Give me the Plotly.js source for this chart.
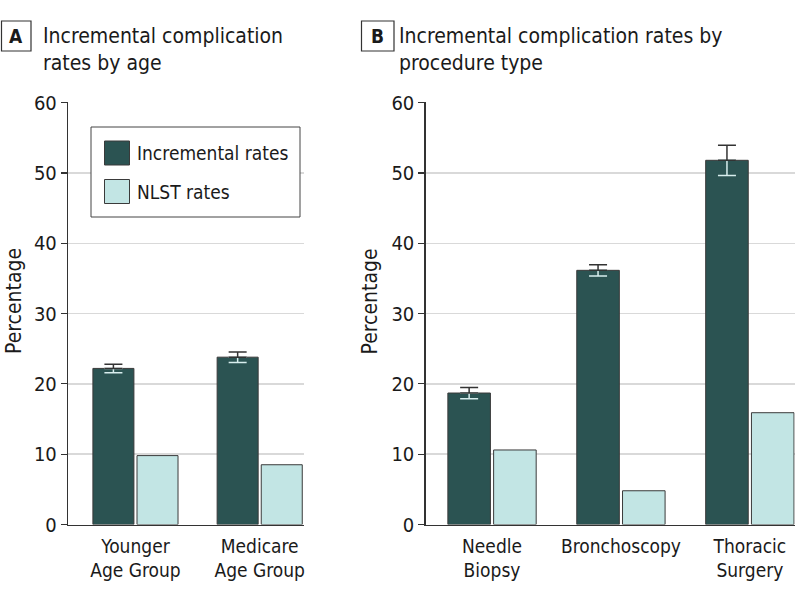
<!DOCTYPE html>
<html>
<head>
<meta charset="utf-8">
<script src="https://cdn.plot.ly/plotly-3.0.1.min.js"></script>
<style>
html,body{margin:0;padding:0;background:#fff;}
#chart{width:798px;height:599px;}
</style>
</head>
<body>
<div id="chart"></div>
<script>
// ---- data ----
const ageCategories = ["Younger<br>Age Group", "Medicare<br>Age Group"];
const ageIncremental = [22.2, 23.8];
const ageIncrementalErr = [0.6, 0.75];
const ageNLST = [9.8, 8.5];

const procCategories = ["Needle<br>Biopsy", "Bronchoscopy", "Thoracic<br>Surgery"];
const procIncremental = [18.7, 36.15, 51.8];
const procIncrementalErr = [0.8, 0.8, 2.15];
const procNLST = [10.6, 4.8, 15.9];

const seriesNames = ["Incremental rates", "NLST rates"];
const panelTitles = ["Incremental complication<br>rates by age", "Incremental complication rates by<br>procedure type"];
const panelLetters = ["A", "B"];
const yAxisTitle = "Percentage";
const yTicks = [0, 10, 20, 30, 40, 50, 60];

// ---- style ----
const FONT = "DejaVu Sans Condensed, Noto Sans, sans-serif";
const DARK = "#2b5352";
const LIGHT = "#c2e5e4";
const EDGE = "#3a3a3a";
const TXT = "#1a1a1a";
const W = 798, H = 599;
const px = v => v / W;
const py = v => 1 - v / H;

function panelTraces(cats, inc, err, nlst, xa, ya) {
  return [
    { type: "bar", x: cats, y: inc, name: seriesNames[0], xaxis: xa, yaxis: ya,
      offsetgroup: "inc", showlegend: false,
      marker: { color: DARK, line: { color: EDGE, width: 1 } },
      error_y: { type: "data", symmetric: false, array: err.map(() => 0), arrayminus: err,
                 color: "#d8eeee", thickness: 1.5, width: 9 } },
    { type: "bar", x: cats, y: inc, name: "upper", xaxis: xa, yaxis: ya,
      offsetgroup: "inc", showlegend: false, hoverinfo: "skip",
      marker: { color: "rgba(0,0,0,0)", line: { width: 0 } },
      error_y: { type: "data", symmetric: false, array: err, arrayminus: err.map(() => 0),
                 color: "#333333", thickness: 1.5, width: 9 } },
    { type: "bar", x: cats, y: nlst, name: seriesNames[1], xaxis: xa, yaxis: ya,
      offsetgroup: "nlst", showlegend: false,
      marker: { color: LIGHT, line: { color: EDGE, width: 1 } } }
  ];
}

const data = [
  ...panelTraces(ageCategories, ageIncremental, ageIncrementalErr, ageNLST, "x", "y"),
  ...panelTraces(procCategories, procIncremental, procIncrementalErr, procNLST, "x2", "y2")
];

const yDomain = [py(524.5), py(102.3)];
function yAxis(domX) {
  return {
    domain: yDomain, range: [0, 60.05], tickvals: yTicks, anchor: domX,
    showgrid: true, gridcolor: "#d9d9d9", gridwidth: 1.5,
    showline: true, linecolor: "#333333", linewidth: 1.2,
    ticks: "outside", ticklen: 6, tickcolor: "#333333", tickwidth: 1.2,
    zeroline: false,
    tickfont: { family: FONT, size: 20, color: TXT }
  };
}
function xAxis(dom, range, ya) {
  return {
    domain: dom, range: range, anchor: ya, type: "category",
    showline: true, linecolor: "#333333", linewidth: 1.2,
    ticks: "", showgrid: false, zeroline: false, ticklabelstandoff: 4,
    tickfont: { family: FONT, size: 19, color: TXT }
  };
}

const annFont = { family: FONT, size: 21, color: TXT };
const annotations = [
  { xref: "paper", yref: "paper", x: px(41), y: py(22), xanchor: "left", yanchor: "top",
    text: panelTitles[0], showarrow: false, align: "left", font: annFont },
  { xref: "paper", yref: "paper", x: px(397), y: py(22), xanchor: "left", yanchor: "top",
    text: panelTitles[1], showarrow: false, align: "left", font: annFont },
  { xref: "paper", yref: "paper", x: px(16), y: py(36), xanchor: "center", yanchor: "middle",
    text: "<b>" + panelLetters[0] + "</b>", showarrow: false, font: { family: FONT, size: 19, color: TXT } },
  { xref: "paper", yref: "paper", x: px(377.5), y: py(36), xanchor: "center", yanchor: "middle",
    text: "<b>" + panelLetters[1] + "</b>", showarrow: false, font: { family: FONT, size: 19, color: TXT } },
  { xref: "paper", yref: "paper", x: px(13.5), y: py(301.5), xanchor: "center", yanchor: "middle",
    text: yAxisTitle, textangle: -90, showarrow: false, font: { family: FONT, size: 21, color: TXT } },
  { xref: "paper", yref: "paper", x: px(369), y: py(301.5), xanchor: "center", yanchor: "middle",
    text: yAxisTitle, textangle: -90, showarrow: false, font: { family: FONT, size: 21, color: TXT } },
  { xref: "paper", yref: "paper", x: px(135), y: py(153), xanchor: "left", yanchor: "middle",
    text: seriesNames[0], showarrow: false, font: { family: FONT, size: 19, color: TXT } },
  { xref: "paper", yref: "paper", x: px(135), y: py(191.5), xanchor: "left", yanchor: "middle",
    text: seriesNames[1], showarrow: false, font: { family: FONT, size: 19, color: TXT } }
];

const shapes = [
  { type: "rect", xref: "paper", yref: "paper", x0: px(1.5), x1: px(31), y0: py(21), y1: py(51),
    line: { color: "#333", width: 1.2 }, fillcolor: "rgba(0,0,0,0)" },
  { type: "rect", xref: "paper", yref: "paper", x0: px(361.5), x1: px(394), y0: py(21), y1: py(51),
    line: { color: "#333", width: 1.2 }, fillcolor: "rgba(0,0,0,0)" },
  // legend box
  { type: "rect", xref: "paper", yref: "paper", x0: px(91), x1: px(300), y0: py(127), y1: py(217),
    line: { color: "#444", width: 1 }, fillcolor: "#ffffff" },
  { type: "rect", xref: "paper", yref: "paper", x0: px(104.5), x1: px(129.5), y0: py(141), y1: py(165),
    line: { color: EDGE, width: 1 }, fillcolor: DARK },
  { type: "rect", xref: "paper", yref: "paper", x0: px(104.5), x1: px(129.5), y0: py(179.5), y1: py(203.5),
    line: { color: EDGE, width: 1 }, fillcolor: LIGHT }
];

const layout = {
  width: W, height: H,
  margin: { l: 0, r: 0, t: 0, b: 0 },
  paper_bgcolor: "#ffffff", plot_bgcolor: "#ffffff",
  barmode: "group", bargap: 0.29, bargroupgap: 0.07,
  showlegend: false,
  xaxis: xAxis([px(68), px(304.3)], [-0.543, 1.359], "y"),
  yaxis: yAxis("x"),
  xaxis2: xAxis([px(425.5), px(794.7)], [-0.516, 2.348], "y2"),
  yaxis2: yAxis("x2"),
  annotations: annotations,
  shapes: shapes,
  font: { family: FONT }
};

Plotly.newPlot("chart", data, layout, { displayModeBar: false, staticPlot: true });
</script>
</body>
</html>
